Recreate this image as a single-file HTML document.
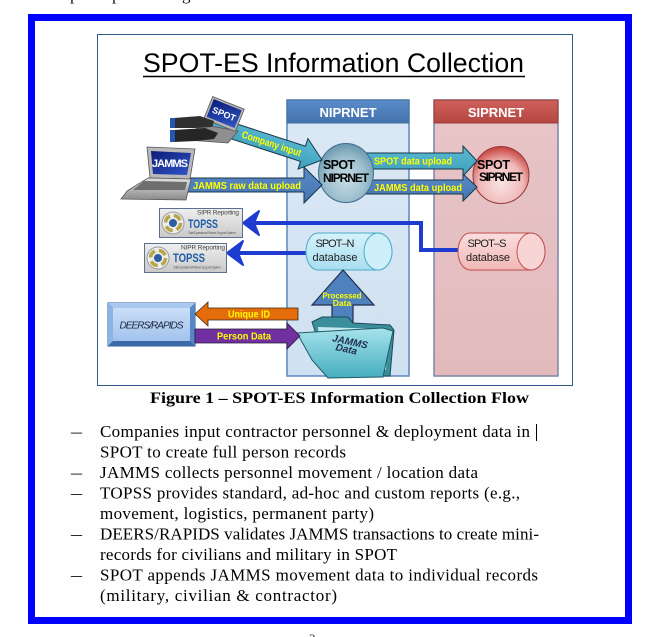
<!DOCTYPE html>
<html><head><meta charset="utf-8">
<style>
html,body{margin:0;padding:0;background:#fff;}
svg{display:block;}
.s{font-family:"Liberation Sans",sans-serif;}
.r{font-family:"Liberation Serif",serif;}
</style></head><body>
<svg width="652" height="637" viewBox="0 0 652 637" xmlns="http://www.w3.org/2000/svg">
<defs>
 <linearGradient id="nipr" x1="0" y1="0" x2="0" y2="1"><stop offset="0" stop-color="#dbe8f5"/><stop offset="1" stop-color="#d0e1f1"/></linearGradient>
 <linearGradient id="sipr" x1="0" y1="0" x2="0" y2="1"><stop offset="0" stop-color="#e8c5c7"/><stop offset="1" stop-color="#e2babc"/></linearGradient>
 <linearGradient id="niprH" x1="0" y1="0" x2="0" y2="1"><stop offset="0" stop-color="#5b8dcb"/><stop offset="1" stop-color="#4372ab"/></linearGradient>
 <linearGradient id="siprH" x1="0" y1="0" x2="0" y2="1"><stop offset="0" stop-color="#cf605c"/><stop offset="1" stop-color="#b44642"/></linearGradient>
 <radialGradient id="nc" cx="50%" cy="60%" r="65%"><stop offset="0" stop-color="#c9dde5"/><stop offset="0.55" stop-color="#9fc0cf"/><stop offset="1" stop-color="#5e8ea6"/></radialGradient>
 <radialGradient id="sc" cx="50%" cy="65%" r="65%"><stop offset="0" stop-color="#fae3e3"/><stop offset="0.6" stop-color="#f0b9b9"/><stop offset="1" stop-color="#c63c38"/></radialGradient>
 <linearGradient id="teal" x1="0" y1="0" x2="0" y2="1"><stop offset="0" stop-color="#5bbcd4"/><stop offset="1" stop-color="#3e9db7"/></linearGradient>
 <linearGradient id="blu" x1="0" y1="0" x2="0" y2="1"><stop offset="0" stop-color="#5a8bc6"/><stop offset="1" stop-color="#4575b2"/></linearGradient>
 <linearGradient id="dbn" x1="0" y1="0" x2="0" y2="1"><stop offset="0" stop-color="#d6f2fb"/><stop offset="1" stop-color="#a9def0"/></linearGradient>
 <linearGradient id="dbs" x1="0" y1="0" x2="0" y2="1"><stop offset="0" stop-color="#fbdede"/><stop offset="1" stop-color="#f1b7b7"/></linearGradient>
 <linearGradient id="tg" x1="0" y1="0" x2="0" y2="1"><stop offset="0" stop-color="#efefef"/><stop offset="1" stop-color="#c9c9c9"/></linearGradient>
 <linearGradient id="scr" x1="0" y1="0" x2="1" y2="1"><stop offset="0" stop-color="#0b1c78"/><stop offset="1" stop-color="#2f56c8"/></linearGradient>
 <linearGradient id="base" x1="0" y1="0" x2="0" y2="1"><stop offset="0" stop-color="#e2e2e2"/><stop offset="1" stop-color="#8a8a8a"/></linearGradient>
 <linearGradient id="fold" x1="0" y1="0" x2="0" y2="1"><stop offset="0" stop-color="#a6e3ec"/><stop offset="1" stop-color="#46aebf"/></linearGradient>
 <linearGradient id="deer" x1="0" y1="0" x2="0" y2="1"><stop offset="0" stop-color="#cadef7"/><stop offset="1" stop-color="#a3c3ed"/></linearGradient>
</defs>
<rect width="652" height="637" fill="#fefefe"/>

<!-- cut-off text at top -->
<text class="r" x="70" y="0" font-size="17" fill="#111">p</text>
<text class="r" x="112" y="0" font-size="17" fill="#111">p</text>
<text class="r" x="182" y="0" font-size="17" fill="#111">g</text>

<!-- blue page border -->
<rect x="31.5" y="17.5" width="597" height="603" fill="none" stroke="#0000ff" stroke-width="7"/>

<!-- diagram frame -->
<rect x="97.5" y="34.5" width="475" height="351" fill="#fff" stroke="#2f5b8a" stroke-width="1"/>

<!-- title -->
<text class="s" x="143" y="72" font-size="27" fill="#000" textLength="381" lengthAdjust="spacingAndGlyphs">SPOT-ES Information Collection</text>
<line x1="143" y1="76.5" x2="525" y2="76.5" stroke="#000" stroke-width="1.6"/>

<!-- columns -->
<rect x="287" y="100" width="122" height="276" fill="url(#nipr)" stroke="#5a86bb" stroke-width="1.5"/>
<rect x="287" y="100" width="122" height="23" fill="url(#niprH)" stroke="#41719c" stroke-width="1"/>
<text class="s" x="348" y="117" text-anchor="middle" font-size="13" font-weight="bold" fill="#fff">NIPRNET</text>
<rect x="434" y="100" width="124" height="276" fill="url(#sipr)" stroke="#7a86a8" stroke-width="1.5"/>
<rect x="434" y="100" width="124" height="23" fill="url(#siprH)" stroke="#9b3c39" stroke-width="1"/>
<text class="s" x="496" y="117" text-anchor="middle" font-size="13" font-weight="bold" fill="#fff">SIPRNET</text>

<!-- blue connectors to TOPSS -->
<polyline points="460,250 421,250 421,223 252,223" fill="none" stroke="#1e3ccf" stroke-width="4"/>
<path d="M243,223 L259,211 L254,223 L259,235 Z" fill="#1e3ccf" stroke="#1e3ccf" stroke-width="2" stroke-linejoin="round"/>
<line x1="307" y1="253" x2="236" y2="253" stroke="#1e3ccf" stroke-width="4"/>
<path d="M227,253 L243,241 L238,253 L243,265 Z" fill="#1e3ccf" stroke="#1e3ccf" stroke-width="2" stroke-linejoin="round"/>

<!-- SIPRNET circle -->
<ellipse cx="501" cy="175" rx="28" ry="28.5" fill="url(#sc)" stroke="#8f3a3a" stroke-width="1"/>

<!-- right arrows -->
<polygon points="360,153 463,153 463,146 477,161 463,176 463,169 360,169" fill="url(#teal)" stroke="#17364a" stroke-width="1"/>
<polygon points="360,180 463,180 463,174 477,187 463,201 463,194 360,194" fill="url(#blu)" stroke="#17364a" stroke-width="1"/>
<text class="s" x="374" y="164.5" font-size="10" font-weight="bold" fill="#ffff00" textLength="78" lengthAdjust="spacingAndGlyphs">SPOT data upload</text>
<text class="s" x="374" y="191" font-size="10" font-weight="bold" fill="#ffff00" textLength="88" lengthAdjust="spacingAndGlyphs">JAMMS data upload</text>

<!-- NIPRNET circle -->
<ellipse cx="346" cy="173" rx="27.5" ry="29.5" fill="url(#nc)" stroke="#3e6e8c" stroke-width="1"/>

<!-- left arrows -->
<polygon points="178,178 304,178 304,167 322,185 304,203 304,192 178,192" fill="url(#blu)" stroke="#17364a" stroke-width="1"/>
<text class="s" x="193" y="189" font-size="10" font-weight="bold" fill="#ffff00" textLength="108" lengthAdjust="spacingAndGlyphs">JAMMS raw data upload</text>
<g transform="translate(322,160) rotate(18)">
 <polygon points="-115,-8 -20,-8 -20,-16 0,0 -20,16 -20,8 -115,8" fill="url(#teal)" stroke="#17364a" stroke-width="1"/>
 <text class="s" x="-84" y="3.5" font-size="10" font-weight="bold" fill="#ffff00" textLength="62" lengthAdjust="spacingAndGlyphs">Company input</text>
</g>

<!-- circle texts -->
<text class="s" x="323" y="169" font-size="12.5" font-weight="bold" fill="#000" textLength="32">SPOT</text>
<text class="s" x="323" y="182" font-size="12" font-weight="bold" fill="#000" textLength="46">NIPRNET</text>
<text class="s" x="477" y="169" font-size="12.5" font-weight="bold" fill="#000" textLength="33">SPOT</text>
<text class="s" x="479" y="181" font-size="12" font-weight="bold" fill="#000" textLength="44">SIPRNET</text>

<!-- JAMMS laptop -->
<polygon points="147,147 195,149 190,179 150,178" fill="#b9b9b9" stroke="#555" stroke-width="0.8"/>
<polygon points="151,151 191,153 187,175 153,174" fill="url(#scr)"/>
<text class="s" x="170" y="167" text-anchor="middle" font-size="11" font-weight="bold" fill="#fff" textLength="36">JAMMS</text>
<polygon points="148,178 191,179 186,200 121,199 127,191" fill="url(#base)" stroke="#555" stroke-width="0.8"/>
<polygon points="144,181 187,182 185,190 133,190" fill="#6e6e6e"/>

<!-- SPOT laptop with hands -->
<polygon points="200,124 238,131 228,143 188,140" fill="#8f8f8f" stroke="#555" stroke-width="0.8"/>
<g transform="translate(224,114) rotate(22)">
 <rect x="-17" y="-12" width="34" height="24" fill="#b3b3b3" stroke="#555" stroke-width="0.8"/>
 <rect x="-15" y="-10" width="30" height="19" fill="url(#scr)"/>
 <text class="s" x="0" y="3" text-anchor="middle" font-size="9" font-weight="bold" fill="#fff">SPOT</text>
</g>
<polygon points="174,118 200,116 214,121 212,127 196,128 174,128" fill="#303030"/>
<polygon points="174,130 205,128 218,133 214,139 196,141 174,142" fill="#262626"/>
<rect x="170" y="118" width="5" height="10" fill="#2458b0"/>
<rect x="170" y="130" width="5" height="12" fill="#2458b0"/>

<!-- TOPSS SIPR -->
<rect x="159.5" y="208.5" width="83" height="29" fill="url(#tg)" stroke="#5d6f8f" stroke-width="1"/>
<circle cx="173" cy="223" r="11" fill="#ececec" stroke="#9a9a9a" stroke-width="1"/>
<circle cx="173" cy="223" r="7.5" fill="none" stroke="#b7a646" stroke-width="3.5" stroke-dasharray="8 4"/>
<circle cx="173" cy="223" r="4" fill="#2e5fa0"/>
<text class="s" x="197" y="214.5" font-size="6.5" fill="#444" textLength="42">SIPR Reporting</text>
<text class="s" x="188" y="228" font-size="12" font-weight="bold" fill="#1d5ca8" textLength="30" lengthAdjust="spacingAndGlyphs">TOPSS</text>
<text class="s" x="188" y="234" font-size="3.5" fill="#666" textLength="48">Total Operational Picture Support System</text>

<!-- TOPSS NIPR -->
<rect x="144.5" y="243.5" width="82" height="29" fill="url(#tg)" stroke="#5d6f8f" stroke-width="1"/>
<circle cx="158" cy="258" r="11" fill="#ececec" stroke="#9a9a9a" stroke-width="1"/>
<circle cx="158" cy="258" r="7.5" fill="none" stroke="#b7a646" stroke-width="3.5" stroke-dasharray="8 4"/>
<circle cx="158" cy="258" r="4" fill="#2e5fa0"/>
<text class="s" x="181" y="249.5" font-size="6.5" fill="#444" textLength="44">NIPR Reporting</text>
<text class="s" x="173" y="262" font-size="12" font-weight="bold" fill="#1d5ca8" textLength="32" lengthAdjust="spacingAndGlyphs">TOPSS</text>
<text class="s" x="173" y="268.5" font-size="3.5" fill="#666" textLength="48">Total Operational Picture Support System</text>

<!-- databases -->
<path d="M318,233 H378 A14 18.5 0 0 1 378,270 H318 A12 18.5 0 0 1 318,233 Z" fill="url(#dbn)" stroke="#4bacc6" stroke-width="1"/>
<ellipse cx="378" cy="251.5" rx="14" ry="18.5" fill="#cdeff9" stroke="#4bacc6" stroke-width="1"/>
<text class="s" x="335" y="247" text-anchor="middle" font-size="11" fill="#222" textLength="39">SPOT–N</text>
<text class="s" x="335" y="261" text-anchor="middle" font-size="11" fill="#222" textLength="45">database</text>
<path d="M470,233 H531 A14 18.5 0 0 1 531,270 H470 A12 18.5 0 0 1 470,233 Z" fill="url(#dbs)" stroke="#c0504d" stroke-width="1"/>
<ellipse cx="531" cy="251.5" rx="14" ry="18.5" fill="#f8d4d4" stroke="#c0504d" stroke-width="1"/>
<text class="s" x="487" y="247" text-anchor="middle" font-size="11" fill="#222" textLength="39">SPOT–S</text>
<text class="s" x="488" y="261" text-anchor="middle" font-size="11" fill="#222" textLength="44">database</text>

<!-- processed data arrow -->
<polygon points="343,270 374,305 353,305 353,332 332,332 332,305 312,305" fill="#4f81bd" stroke="#1f2f4f" stroke-width="1.2"/>
<text class="s" x="342" y="298.5" text-anchor="middle" font-size="8.5" font-weight="bold" fill="#ffff00" textLength="39" lengthAdjust="spacingAndGlyphs">Processed</text>
<text class="s" x="342" y="306" text-anchor="middle" font-size="8.5" font-weight="bold" fill="#ffff00">Data</text>

<!-- folder -->
<polygon points="312,322 322,317 348,317 353,323 390,325 394,330 390,376 330,376" fill="#3b8f9c" stroke="#1c4a55" stroke-width="1"/>
<polygon points="318,327 388,329 386,370 322,368" fill="#c3eaf0"/>
<polygon points="297,333 383,328 393,331 383,377 328,378 312,360" fill="url(#fold)" stroke="#1f5a66" stroke-width="1"/>
<g transform="translate(350,342) rotate(12)">
 <text class="s" x="0" y="3" text-anchor="middle" font-size="10" font-style="italic" font-weight="bold" fill="#1f2f4f">JAMMS</text>
 <text class="s" x="-2" y="11" text-anchor="middle" font-size="10" font-style="italic" font-weight="bold" fill="#1f2f4f">Data</text>
</g>

<!-- DEERS/RAPIDS -->
<rect x="108" y="303" width="87" height="43" fill="#4a7fc4" stroke="#2d5a94" stroke-width="1"/>
<polygon points="108,303 195,303 190,308 113,308" fill="#a9c8ef"/>
<polygon points="108,303 113,308 113,341 108,346" fill="#8ab3e6"/>
<polygon points="108,346 113,341 190,341 195,346" fill="#3b6aa8"/>
<polygon points="195,303 190,308 190,341 195,346" fill="#5586c6"/>
<rect x="113" y="308" width="77" height="33" fill="url(#deer)"/>
<text class="s" x="151.5" y="328.5" text-anchor="middle" font-size="10" font-style="italic" fill="#1a2540" textLength="64">DEERS/RAPIDS</text>

<!-- unique id / person data -->
<polygon points="195,314 208,302 208,308 298,308 298,320 208,320 208,326" fill="#e46c0a" stroke="#3a2a1a" stroke-width="0.8"/>
<text class="s" x="249" y="317.5" text-anchor="middle" font-size="10" font-weight="bold" fill="#ffff00" textLength="42" lengthAdjust="spacingAndGlyphs">Unique ID</text>
<polygon points="195,329 287,329 287,323 300,336 287,349 287,343 195,343" fill="#7030a0" stroke="#2a1a3a" stroke-width="0.8"/>
<text class="s" x="244" y="339.5" text-anchor="middle" font-size="10" font-weight="bold" fill="#ffff00" textLength="54" lengthAdjust="spacingAndGlyphs">Person Data</text>

<!-- caption -->
<text class="r" x="150" y="403" font-size="16" font-weight="bold" fill="#000" textLength="379" lengthAdjust="spacingAndGlyphs">Figure 1 – SPOT-ES Information Collection Flow</text>

<!-- bullets -->
<g class="r" font-size="17" fill="#000">
 <text x="71" y="437" textLength="11" lengthAdjust="spacingAndGlyphs">–</text>
 <text x="100" y="437" textLength="430">Companies input contractor personnel &amp; deployment data in</text>
 <text x="100" y="457.5" textLength="246">SPOT to create full person records</text>
 <text x="71" y="478" textLength="11" lengthAdjust="spacingAndGlyphs">–</text>
 <text x="100" y="478" textLength="378">JAMMS collects personnel movement / location data</text>
 <text x="71" y="498.5" textLength="11" lengthAdjust="spacingAndGlyphs">–</text>
 <text x="100" y="498.5" textLength="420">TOPSS provides standard, ad-hoc and custom reports (e.g.,</text>
 <text x="100" y="519" textLength="274">movement, logistics, permanent party)</text>
 <text x="71" y="539.5" textLength="11" lengthAdjust="spacingAndGlyphs">–</text>
 <text x="100" y="539.5" textLength="439">DEERS/RAPIDS validates JAMMS transactions to create mini-</text>
 <text x="100" y="560" textLength="297">records for civilians and military in SPOT</text>
 <text x="71" y="580.5" textLength="11" lengthAdjust="spacingAndGlyphs">–</text>
 <text x="100" y="580.5" textLength="438">SPOT appends JAMMS movement data to individual records</text>
 <text x="100" y="601" textLength="237">(military, civilian &amp; contractor)</text>
</g>
<line x1="536.5" y1="424" x2="536.5" y2="441" stroke="#000" stroke-width="1"/>

<!-- page number (cut off) -->
<text class="r" x="309" y="643" font-size="13" fill="#333">3</text>
</svg>
</body></html>
